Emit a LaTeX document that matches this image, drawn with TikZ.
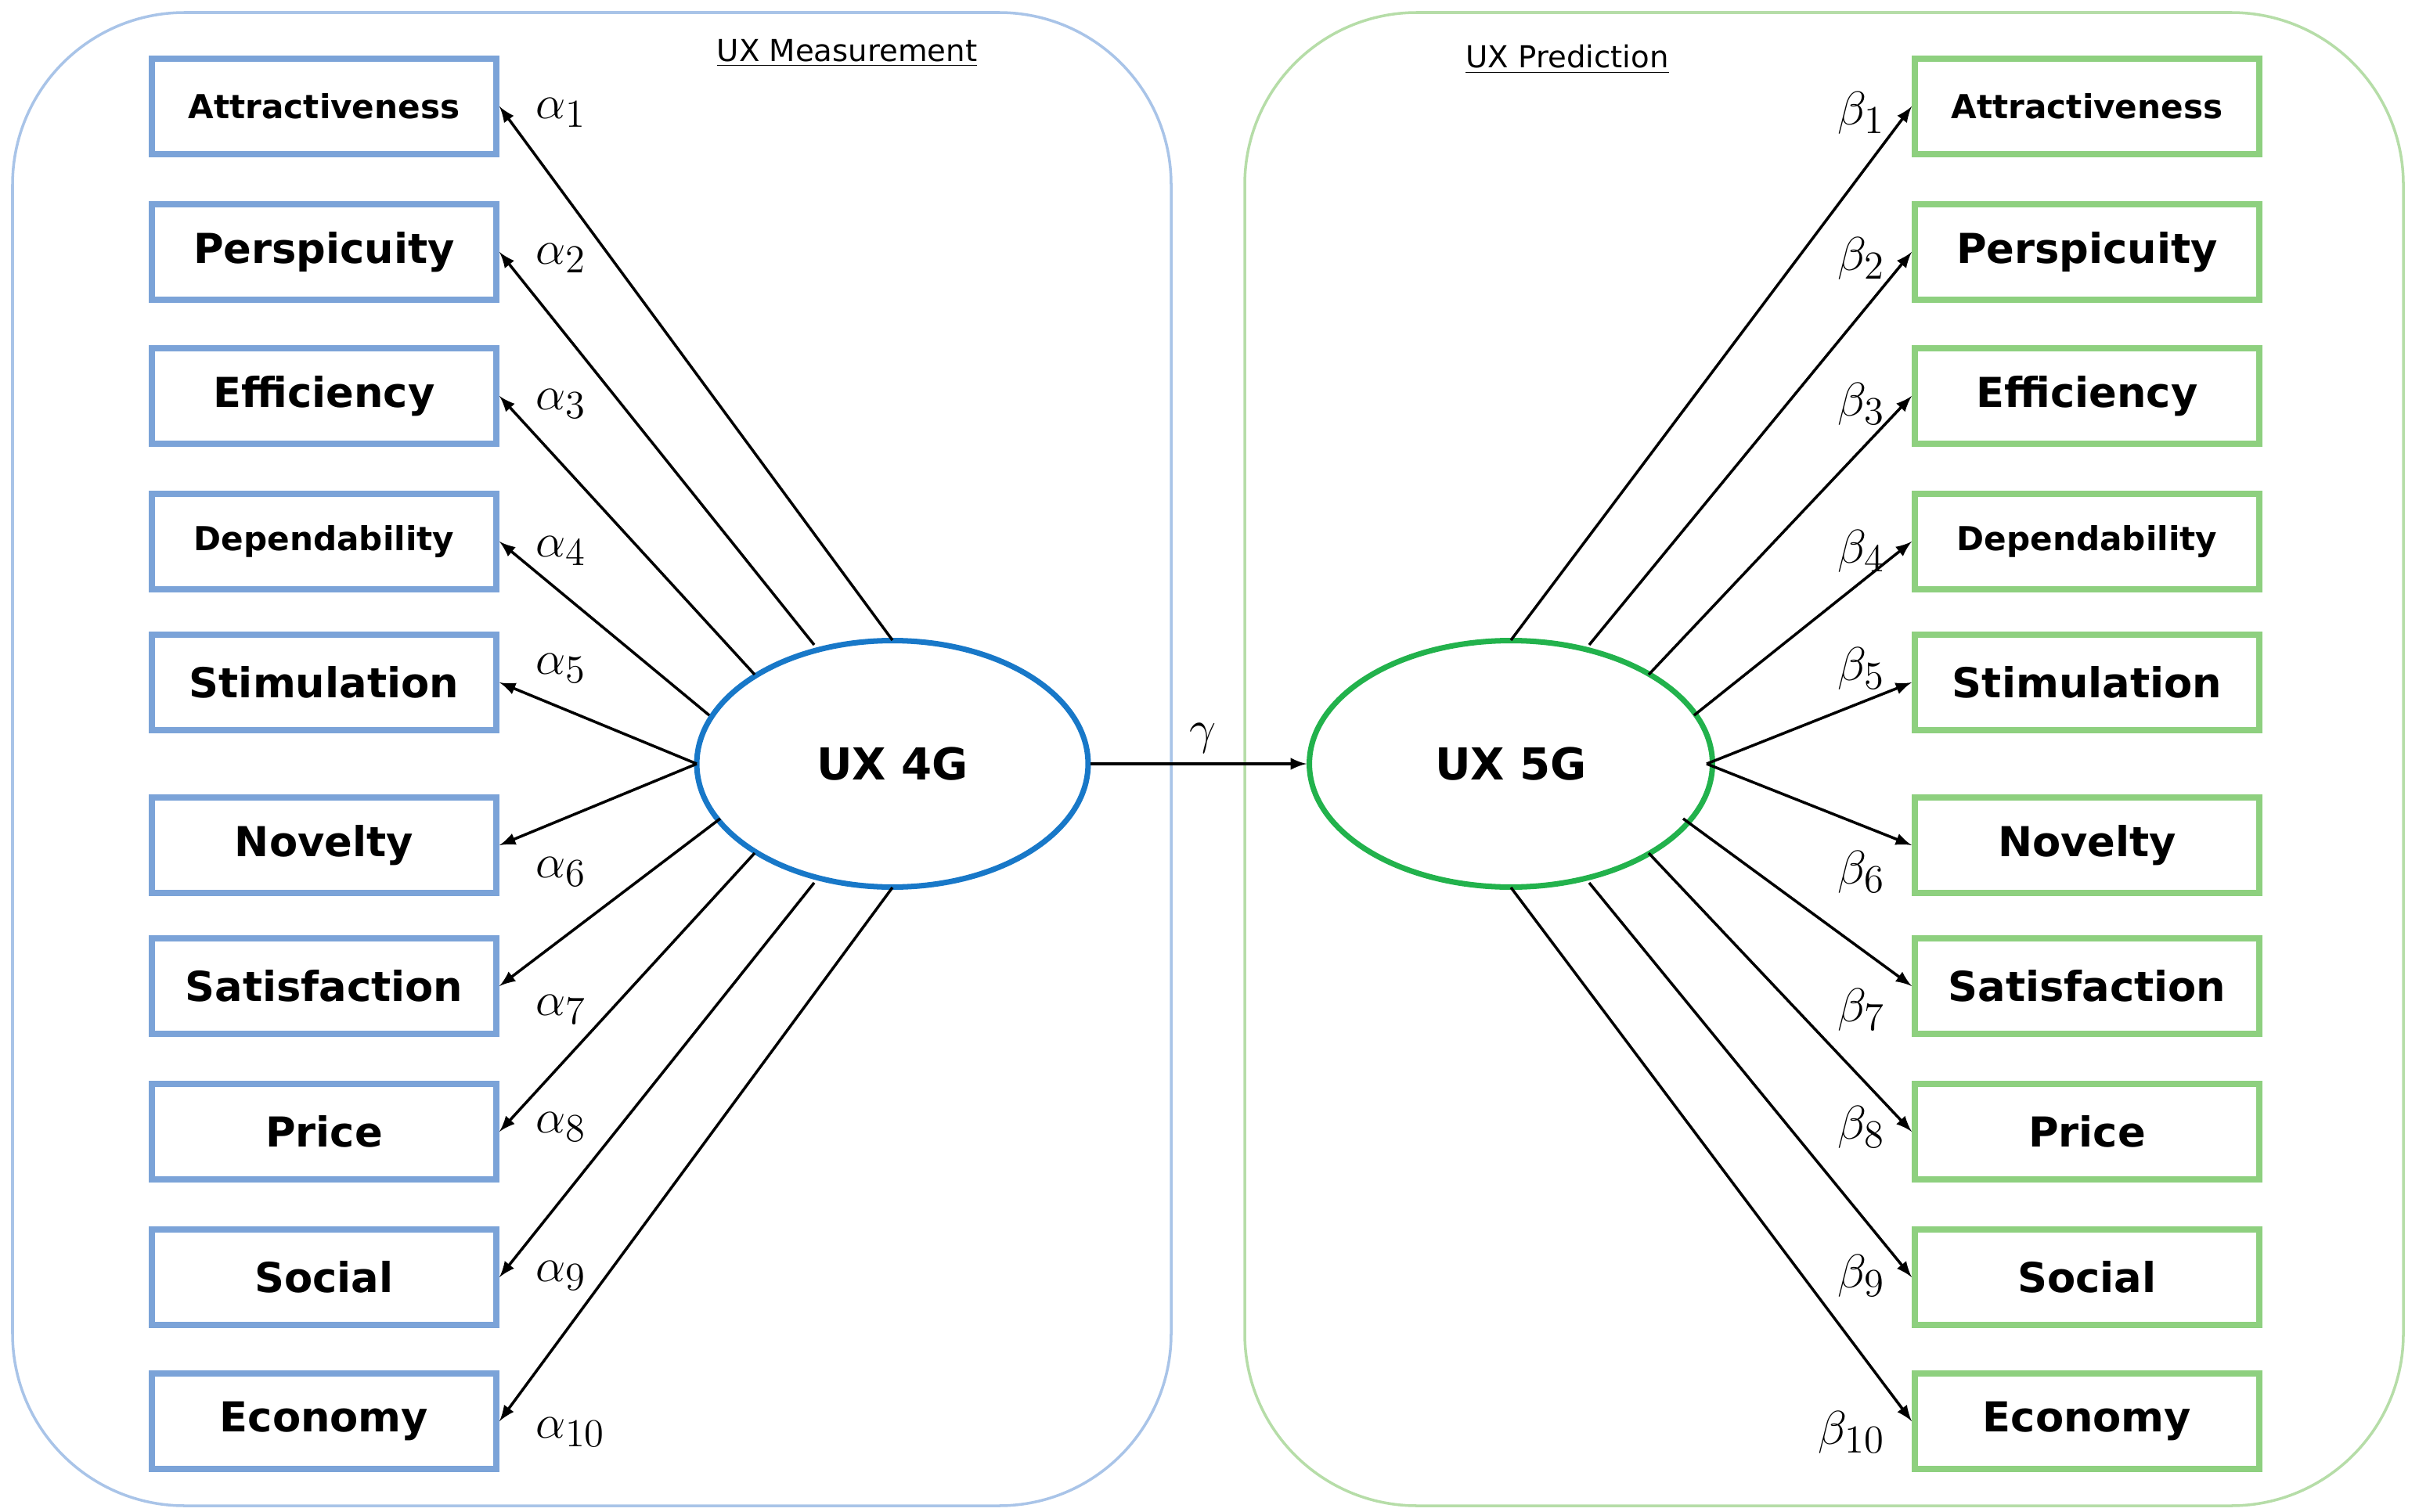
\documentclass[tikz,border=0pt]{standalone}
\usepackage{fontspec}
\setmainfont{DejaVu Sans}
\usetikzlibrary{positioning, shapes.geometric, calc}
\definecolor{boxblue}{HTML}{7BA3D8}
\definecolor{boxgreen}{HTML}{8ED07F}
\definecolor{panelblue}{HTML}{A9C4E8}
\definecolor{panelgreen}{HTML}{B6DDA8}
\definecolor{ellblue}{HTML}{1878C8}
\definecolor{ellgreen}{HTML}{22B24C}
\begin{document}
\begin{tikzpicture}[x=0.02cm, y=-0.02cm,
panel/.style={draw, line width=1pt, rounded corners=2.2cm},
dim/.style={
  rectangle, draw, line width=2.3pt,
  minimum width=4.4cm, minimum height=1.22cm,
  font=\fontsize{15}{18}\selectfont\bfseries, inner sep=0pt
},
latent/.style={ellipse, draw, line width=2pt, font=\fontsize{16}{19}\selectfont\bfseries},
load/.style={-latex, line width=1pt},
coef/.style={font=\fontsize{19}{22}\selectfont}
]
\useasboundingbox (0,0) rectangle (1545,966);

\draw[panel, panelblue] (8,8) rectangle (748,962);
\draw[panel, panelgreen] (795,8) rectangle (1535,962);
\node (ttlm) at (541,34) {\fontsize{11}{13}\selectfont\underline{UX Measurement}};
\node (ttlp) at (1001,38) {\fontsize{11}{13}\selectfont\underline{UX Prediction}};

\node (g4) [latent, ellblue, minimum width=5.0cm, minimum height=3.15cm] at (570,488) {\textcolor{black}{UX 4G}};
\node (g5) [latent, ellgreen, minimum width=5.15cm, minimum height=3.15cm] at (965,488) {\textcolor{black}{UX 5G}};
\draw[load] (g4) -- node[above, coef, pos=0.52] {$\gamma$} (g5);

% indicators
\foreach \i/\name/\y/\dx/\dy/\ly in {
  1/Attractiveness/68/0/-79/72,
  2/Perspicuity/161/50/-76/165,
  3/Efficiency/253/88/-57/258,
  4/Dependability/346/117/-31/352,
  5/Stimulation/436/125/0/427,
  6/Novelty/540/125/0/557,
  7/Satisfaction/630/110/35/645,
  8/Price/723/88/57/720,
  9/Social/816/50/76/815,
  10/Economy/908/0/79/915}{
  \ifnum\i=1 \def\fs{\fontsize{12}{14}\selectfont}\else
  \ifnum\i=4 \def\fs{\fontsize{12}{14}\selectfont}\else
  \def\fs{}\fi\fi
  \node (m\i) [dim, boxblue] at (207,\y) {\textcolor{black}{\fs\name}};
  \node (p\i) [dim, boxgreen] at (1333,\y) {\textcolor{black}{\fs\name}};
  \draw[load] ($(g4)+(-\dx,\dy)$) -- (m\i.east);
  \draw[load] ($(g5)+(\dx,\dy)$) -- (p\i.west);
  \node (a\i) [coef, anchor=west] at (336,\ly) {$\alpha_{\i}$};
  \node (b\i) [coef, anchor=east] at (1210,\ly) {$\beta_{\i}$};
}
\end{tikzpicture}
\end{document}
